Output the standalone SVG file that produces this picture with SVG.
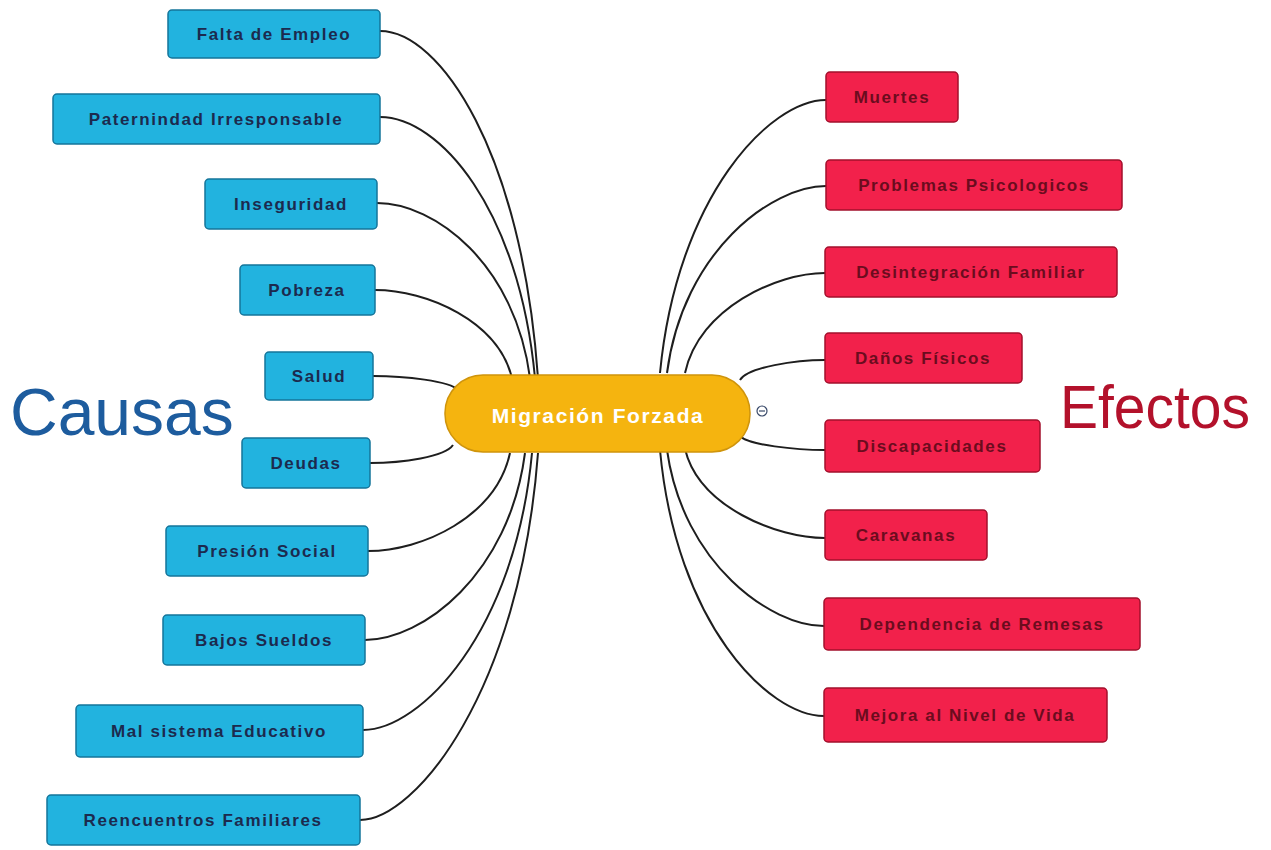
<svg xmlns="http://www.w3.org/2000/svg" width="1271" height="850" viewBox="0 0 1271 850">
<style>
.bg{fill:#ffffff}
.cause rect{fill:#22B3DF;stroke:#15759a;stroke-width:1.5}
.effect rect{fill:#F2214B;stroke:#a3102c;stroke-width:1.5}
.cause text{fill:#1c2a4e}
.effect text{fill:#6b0c1e}
.node text{font-family:"Liberation Sans",Arial,sans-serif;font-weight:bold;font-size:17px;letter-spacing:1.6px;text-anchor:middle;dominant-baseline:central}
.conn path{fill:none;stroke:#1e1e1e;stroke-width:2}
.title{font-family:"Liberation Sans",Arial,sans-serif}
</style>
<rect class="bg" x="0" y="0" width="1271" height="850"/>
<g class="conn" id="connectors">
<path d="M538,378 C522,152 440,31 380,31"/>
<path d="M535,378 C519,208 439,117 380,117"/>
<path d="M530,378 C515,264 435,203 377,203"/>
<path d="M512,378 C498,321 427,290 375,290"/>
<path d="M458,390 C450,381 405,376 373,376"/>
<path d="M453,445 C445,457 402,463 370,463"/>
<path d="M510,453 C496,517 422,551 368,551"/>
<path d="M525,453 C509,575 422,640 365,640"/>
<path d="M532,453 C515,633 420,730 363,730"/>
<path d="M538,453 C520,692 415,820 360,820"/>
<path d="M660,373 C677,196 770,100 826,100"/>
<path d="M667,373 C683,251 772,186 826,186"/>
<path d="M685,373 C699,308 777,273 825,273"/>
<path d="M740,380 C748,367 796,360 825,360"/>
<path d="M740,436 C748,445 796,450 825,450"/>
<path d="M685,449 C699,507 777,538 825,538"/>
<path d="M667,450 C683,564 771,626 824,626"/>
<path d="M660,450 C676,623 768,716 824,716"/>
</g>
<g id="center" class="node">
<rect x="445" y="375" width="305" height="77" rx="38" fill="#F5B40F" stroke="#cf940b" stroke-width="1.5"/>
<text x="598" y="415" style="fill:#ffffff;font-size:21px;letter-spacing:1.6px">Migración Forzada</text>
</g>
<g id="collapse">
<circle cx="762" cy="411" r="5" fill="#ffffff" stroke="#3a4a6a" stroke-width="1.2"/>
<line x1="759" y1="411" x2="765" y2="411" stroke="#3a4a6a" stroke-width="1.2"/>
</g>
<g id="c1" class="node cause"><rect x="168" y="10" width="212" height="48" rx="4"/><text x="274" y="34">Falta de Empleo</text></g>
<g id="c2" class="node cause"><rect x="53" y="94" width="327" height="50" rx="4"/><text x="216" y="119">Paternindad Irresponsable</text></g>
<g id="c3" class="node cause"><rect x="205" y="179" width="172" height="50" rx="4"/><text x="291" y="204">Inseguridad</text></g>
<g id="c4" class="node cause"><rect x="240" y="265" width="135" height="50" rx="4"/><text x="307" y="290">Pobreza</text></g>
<g id="c5" class="node cause"><rect x="265" y="352" width="108" height="48" rx="4"/><text x="319" y="376">Salud</text></g>
<g id="c6" class="node cause"><rect x="242" y="438" width="128" height="50" rx="4"/><text x="306" y="463">Deudas</text></g>
<g id="c7" class="node cause"><rect x="166" y="526" width="202" height="50" rx="4"/><text x="267" y="551">Presión Social</text></g>
<g id="c8" class="node cause"><rect x="163" y="615" width="202" height="50" rx="4"/><text x="264" y="640">Bajos Sueldos</text></g>
<g id="c9" class="node cause"><rect x="76" y="705" width="287" height="52" rx="4"/><text x="219" y="731">Mal sistema Educativo</text></g>
<g id="c10" class="node cause"><rect x="47" y="795" width="313" height="50" rx="4"/><text x="203" y="820">Reencuentros Familiares</text></g>
<g id="e1" class="node effect"><rect x="826" y="72" width="132" height="50" rx="4"/><text x="892" y="97">Muertes</text></g>
<g id="e2" class="node effect"><rect x="826" y="160" width="296" height="50" rx="4"/><text x="974" y="185">Problemas Psicologicos</text></g>
<g id="e3" class="node effect"><rect x="825" y="247" width="292" height="50" rx="4"/><text x="971" y="272">Desintegración Familiar</text></g>
<g id="e4" class="node effect"><rect x="825" y="333" width="197" height="50" rx="4"/><text x="923" y="358">Daños Físicos</text></g>
<g id="e5" class="node effect"><rect x="825" y="420" width="215" height="52" rx="4"/><text x="932" y="446">Discapacidades</text></g>
<g id="e6" class="node effect"><rect x="825" y="510" width="162" height="50" rx="4"/><text x="906" y="535">Caravanas</text></g>
<g id="e7" class="node effect"><rect x="824" y="598" width="316" height="52" rx="4"/><text x="982" y="624">Dependencia de Remesas</text></g>
<g id="e8" class="node effect"><rect x="824" y="688" width="283" height="54" rx="4"/><text x="965" y="715">Mejora al Nivel de Vida</text></g>
<text id="causas" class="title" x="10" y="435" font-size="66" fill="#1D5C9E">Causas</text>
<text id="efectos" class="title" x="1060" y="428" font-size="62" fill="#B3112B" textLength="190" lengthAdjust="spacingAndGlyphs">Efectos</text>
</svg>
